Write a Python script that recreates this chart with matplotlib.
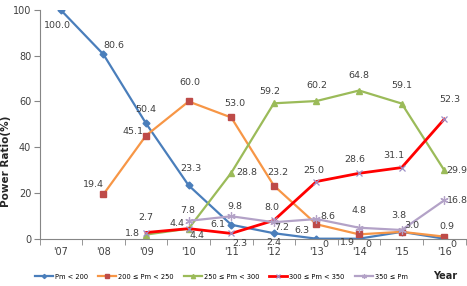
import numpy as np
import matplotlib
matplotlib.use('Agg')
from matplotlib import pyplot as plt

years = ["'07", "'08", "'09", "'10", "'11", "'12", "'13", "'14", "'15", "'16"]
nan = np.nan

pm_lt200 = [100.0, 80.6, 50.4, 23.3, 6.1, 2.4, 0.0, 0.0, 3.0, 0.0]
pm_200_250 = [nan, 19.4, 45.1, 60.0, 53.0, 23.2, 6.3, 1.9, 3.0, 0.9]
pm_250_300 = [nan, nan, 1.8, 4.4, 28.8, 59.2, 60.2, 64.8, 59.1, 29.9]
pm_300_350 = [nan, nan, 2.7, 4.4, 2.3, 8.0, 25.0, 28.6, 31.1, 52.3]
pm_ge350 = [nan, nan, nan, 7.8, 9.8, 7.2, 8.6, 4.8, 3.8, 16.8]

labels = ['Pm < 200', '200 \u2264 Pm < 250', '250 \u2264 Pm < 300',
          '300 \u2264 Pm < 350', '350 \u2264 Pm']

# label text per point (None = not shown)
txt_lt200 = ['100.0', '80.6', '50.4', '23.3', '6.1', '2.4', '0', '0', None, '0']
txt_200_250 = [None, '19.4', '45.1', '60.0', '53.0', '23.2', '6.3', '1.9', '3.0', '0.9']
txt_250_300 = [None, None, '1.8', '4.4', '28.8', '59.2', '60.2', '64.8', '59.1', '29.9']
txt_300_350 = [None, None, '2.7', '4.4', '2.3', '8.0', '25.0', '28.6', '31.1', '52.3']
txt_ge350 = [None, None, None, '7.8', '9.8', '7.2', '8.6', '4.8', '3.8', '16.8']

# label offsets in pixels
off_lt200 = [(-3, -15), (10, 9), (0, 14), (2, 17), (-13, 0), (0, -9),
             (9, -6), (9, -6), (0, 0), (9, -6)]
off_200_250 = [None, (-10, 10), (-13, 4), (1, 19), (4, 14), (4, 13),
               (-15, -6), (-12, -8), (10, 6), (3, 10)]
off_250_300 = [None, None, (-14, 1), (-12, 5), (16, 0), (-4, 12),
               (0, 16), (0, 15), (0, 18), (13, 0)]
off_300_350 = [None, None, (0, 15), (8, -7), (9, -10), (-2, 13),
               (-3, 11), (-4, 14), (-8, 12), (6, 20)]
off_ge350 = [None, None, None, (-1, 10), (4, 10), (8, -5),
             (11, 3), (0, 17), (-3, 15), (13, 0)]

x = np.arange(len(years))

fig = plt.figure(figsize=(4.67, 2.86), dpi=100)
ax = fig.add_axes([0.0846, 0.1654, 0.9124, 0.7996])

series = [
    (pm_lt200, txt_lt200, off_lt200, dict(color='#4a7ebb', lw=1.6, marker='D', ms=3.5,
                                          mfc='#4a7ebb', mec='#4a7ebb')),
    (pm_200_250, txt_200_250, off_200_250, dict(color='#f79646', lw=1.6, marker='s', ms=5,
                                                mfc='#be4b48', mec='#be4b48')),
    (pm_250_300, txt_250_300, off_250_300, dict(color='#9bbb59', lw=1.6, marker='^', ms=5,
                                                mfc='#9bbb59', mec='#9bbb59')),
    (pm_300_350, txt_300_350, off_300_350, dict(color='#ff0000', lw=2.0, marker='x', ms=5,
                                                mec='#9d8fc7', mew=0.9)),
    (pm_ge350, txt_ge350, off_ge350, dict(color='#b3a2c7', lw=1.6, marker=(6, 2, 0), ms=6,
                                          mec='#b3a2c7', mew=0.9)),
]

handles = []
for (vals, txts, offs, style), lab in zip(series, labels):
    h, = ax.plot(x, vals, label=lab, **style)
    handles.append(h)
    for xi, v, t, o in zip(x, vals, txts, offs):
        if t is None or o is None:
            continue
        ax.annotate(t, (xi, v), xytext=o, textcoords='offset pixels',
                    ha='center', va='center', fontsize=6.8, color='#404040')

ax.set_xlim(-0.5, 9.5)
ax.set_ylim(0, 100)
ax.set_xticks(x)
ax.set_xticklabels(years)
ax.set_xticks(np.arange(-0.5, 10, 1), minor=True)
ax.set_yticks([0, 20, 40, 60, 80, 100])
ax.tick_params(axis='x', which='major', length=0, pad=6, labelsize=7, labelcolor='#404040')
ax.tick_params(axis='x', which='minor', length=4, color='#868686', direction='out')
ax.tick_params(axis='y', length=4, color='#868686', pad=2, labelsize=7, labelcolor='#404040')
for s in ['top', 'right']:
    ax.spines[s].set_visible(False)
for s in ['left', 'bottom']:
    ax.spines[s].set_color('#868686')
    ax.spines[s].set_linewidth(0.8)

fig.text(0.012, 0.437, 'Power Ratio(%)', rotation=90, ha='center', va='center',
         fontsize=7.5, fontweight='bold', color='#262626')

fig.legend(handles=handles, loc='center left', bbox_to_anchor=(0.075, 0.033), ncol=5,
           frameon=False, fontsize=4.8, handlelength=2.7, handletextpad=0.3,
           columnspacing=1.5, borderpad=0, borderaxespad=0, markerscale=0.6)
fig.text(0.953, 0.035, 'Year', ha='center', va='center', fontsize=7,
         fontweight='bold', color='#262626')

fig.savefig('out.png', dpi=100)
